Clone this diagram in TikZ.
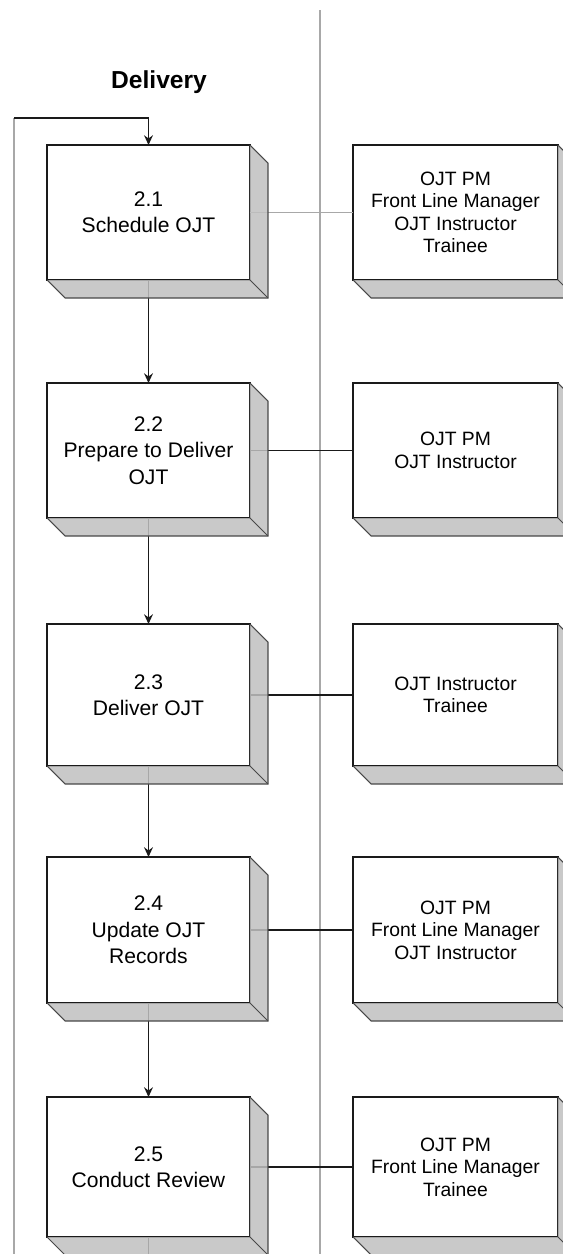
\documentclass[tikz,border=0pt]{standalone}
\usepackage{fontspec}
\setmainfont{Liberation Sans}
\usetikzlibrary{arrows.meta, calc}
\definecolor{shadegray}{HTML}{C0C0C0}
\definecolor{linegray}{HTML}{A8A8A8}
\definecolor{edgeblack}{HTML}{1A1A1A}

\tikzset{
  taskbox/.style={draw=edgeblack, fill=white, line width=0.9pt, align=center,
    minimum width=4.06cm, inner sep=2pt, font=\fontsize{12}{15}\selectfont},
  rolebox/.style={draw=edgeblack, fill=white, line width=0.9pt, align=center,
    minimum width=4.10cm, inner sep=2pt, font=\fontsize{11}{12.8}\selectfont},
  flowarrow/.style={edgeblack, line width=1.1pt, -{Stealth[length=5.5pt,width=5pt]}},
  rolelink/.style={edgeblack, line width=0.8pt}
}

\begin{document}
\begin{tikzpicture}[x=0.02cm, y=-0.02cm, every node/.style={outer sep=0pt}]
\useasboundingbox (0,0) rectangle (562,1254);

\def\xL{47}
\def\xR{250}
\def\xRL{353}
\def\xRR{558}
\def\D{18}

% Lane divider and title
\coordinate (divtop) at (320,10);
\coordinate (divbot) at (320,1254);
\draw[linegray, line width=0.8pt] (divtop) -- (divbot);
\node[font=\bfseries\fontsize{14}{16}\selectfont] (title) at (159,82) {Delivery};

% Task boxes and role boxes
\foreach \i/\yT/\yB/\task/\roles in {
  1/145/280/{2.1\\Schedule OJT}/{OJT PM\\Front Line Manager\\OJT Instructor\\Trainee},
  2/383/518/{2.2\\Prepare to Deliver\\OJT}/{OJT PM\\OJT Instructor},
  3/624/766/{2.3\\Deliver OJT}/{OJT Instructor\\Trainee},
  4/857/1003/{2.4\\Update OJT\\Records}/{OJT PM\\Front Line Manager\\OJT Instructor},
  5/1097/1237/{2.5\\Conduct Review}/{OJT PM\\Front Line Manager\\Trainee}}{
  \pgfmathsetmacro{\h}{(\yB-\yT)*0.02}
  \node[taskbox, minimum height=\h cm] (b\i) at ({(\xL+\xR)/2},{(\yT+\yB)/2}) {\task};
  \node[rolebox, minimum height=\h cm] (r\i) at ({(\xRL+\xRR)/2},{(\yT+\yB)/2}) {\roles};
}

% Loop back line and exit
\coordinate (looptop) at (14,118);
\coordinate (loopbot) at (14,1254);
\coordinate (exit) at (148.5,1254);
\draw[linegray, line width=0.8pt] (loopbot) -- (looptop);
\draw[flowarrow] (looptop) -- (looptop -| b1.north) -- (b1.north);
\draw[edgeblack, line width=1.1pt] (b5.south) -- (exit);

% Flow between tasks
\foreach \i/\j in {1/2,2/3,3/4,4/5}{
  \draw[flowarrow] (b\i.south) -- (b\j.north);
}

% Task to roles
\draw[rolelink, linegray] (b1.east) -- (r1.west);
\foreach \i in {2,...,5}{
  \draw[rolelink] (b\i.east) -- (r\i.west);
}

% 3D depth of every box
\foreach \n in {b1,b2,b3,b4,b5,r1,r2,r3,r4,r5}{
  \fill[shadegray, fill opacity=0.85]
    (\n.north east) -- ++(\D,\D) -- ($(\n.south east)+(\D,\D)$)
    -- ($(\n.south west)+(\D,\D)$) -- (\n.south west) -- (\n.south east) -- cycle;
  \draw[edgeblack!80, line width=0.6pt]
    (\n.south west) -- ++(\D,\D) -| ($(\n.north east)+(\D,\D)$) -- (\n.north east);
  \draw[edgeblack!80, line width=0.5pt] (\n.south east) -- ++(\D,\D);
}

\end{tikzpicture}
\end{document}
